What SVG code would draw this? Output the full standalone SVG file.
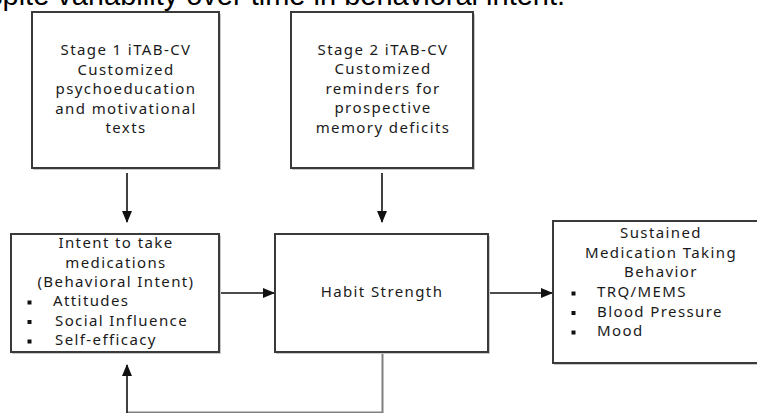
<svg xmlns="http://www.w3.org/2000/svg" width="757" height="413" viewBox="0 0 757 413">
<style>
.box{fill:#fff;stroke:#3a3a3a;stroke-width:2}
.sh{fill:#c8c8c8}
.t{font-family:"Noto Sans",sans-serif;font-size:15px;fill:#1a1a1a;letter-spacing:1.4px}
.c{text-anchor:middle}
.ln{stroke:#111;stroke-width:1.6;fill:none}
.bul{fill:#111}
.top{font-family:"Liberation Sans",Arial,sans-serif;font-size:29px;fill:#000}
</style>
<defs>
<marker id="ah" markerWidth="12" markerHeight="10" refX="11" refY="5" orient="auto" markerUnits="userSpaceOnUse">
<path d="M0,0 L12,5 L0,10 Z" fill="#111"/>
</marker>
</defs>
<text class="top" x="-12" y="5">spite variability over time in behavioral intent.</text>

<g id="connectors">
<line class="ln" x1="127" y1="173" x2="127" y2="222" marker-end="url(#ah)"/>
<line class="ln" x1="382" y1="173" x2="382" y2="222" marker-end="url(#ah)"/>
<line class="ln" x1="219" y1="293" x2="274" y2="293" marker-end="url(#ah)"/>
<line class="ln" x1="488" y1="293" x2="552" y2="293" marker-end="url(#ah)"/>
<polyline points="382.5,353 382.5,412.5 127,412.5" fill="none" stroke="#808080" stroke-width="2"/>
<line class="ln" x1="127" y1="413" x2="127" y2="365" marker-end="url(#ah)"/>
</g>

<g id="stage1">
<rect class="sh" x="33" y="14" width="188" height="156"/>
<rect class="box" x="32" y="12" width="187" height="156"/>
<text class="t c" x="126" y="55">Stage 1 iTAB-CV</text>
<text class="t c" x="126" y="74.5">Customized</text>
<text class="t c" x="126" y="94">psychoeducation</text>
<text class="t c" x="126" y="113.5">and motivational</text>
<text class="t c" x="126" y="133">texts</text>
</g>

<g id="stage2">
<rect class="sh" x="292" y="14" width="183" height="156"/>
<rect class="box" x="291" y="12" width="182" height="156"/>
<text class="t c" x="383" y="54.5">Stage 2 iTAB-CV</text>
<text class="t c" x="383" y="74">Customized</text>
<text class="t c" x="383" y="93.5">reminders for</text>
<text class="t c" x="383" y="113">prospective</text>
<text class="t c" x="383" y="132.5">memory deficits</text>
</g>

<g id="intent">
<rect class="sh" x="12" y="236" width="209" height="118"/>
<rect class="box" x="11" y="234" width="208" height="118"/>
<text class="t c" x="116" y="248">Intent to take</text>
<text class="t c" x="116" y="267.5">medications</text>
<text class="t c" x="116" y="287">(Behavioral Intent)</text>
<rect class="bul" x="27.5" y="300.5" width="4" height="4"/>
<rect class="bul" x="27.5" y="320" width="4" height="4"/>
<rect class="bul" x="27.5" y="339.5" width="4" height="4"/>
<text class="t" x="53" y="306">Attitudes</text>
<text class="t" x="55" y="325.5">Social Influence</text>
<text class="t" x="55" y="345">Self-efficacy</text>
</g>

<g id="habit">
<rect class="sh" x="276" y="236" width="214" height="118"/>
<rect class="box" x="275" y="234" width="213" height="118"/>
<text class="t c" x="382" y="297">Habit Strength</text>
</g>

<g id="sustained">
<rect class="sh" x="554" y="223" width="210" height="142"/>
<rect class="box" x="553" y="221" width="210" height="142"/>
<text class="t c" x="661" y="238">Sustained</text>
<text class="t c" x="661" y="257.5">Medication Taking</text>
<text class="t c" x="661" y="277">Behavior</text>
<rect class="bul" x="571.5" y="291.5" width="4" height="4"/>
<rect class="bul" x="571.5" y="311" width="4" height="4"/>
<rect class="bul" x="571.5" y="330.5" width="4" height="4"/>
<text class="t" x="597" y="297">TRQ/MEMS</text>
<text class="t" x="597" y="316.5">Blood Pressure</text>
<text class="t" x="597" y="336">Mood</text>
</g>
</svg>
